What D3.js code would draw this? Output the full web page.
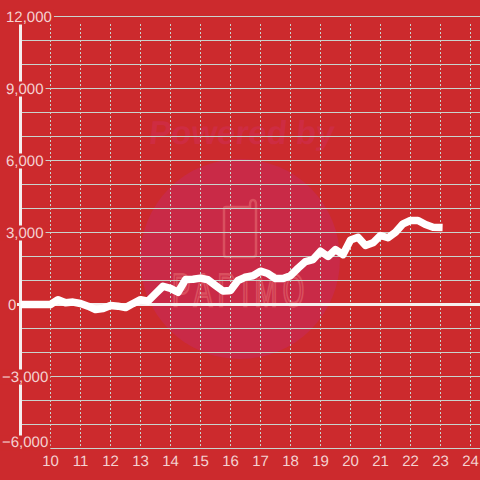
<!DOCTYPE html>
<html>
<head>
<meta charset="utf-8">
<style>
  html, body { margin: 0; padding: 0; background: #cc2a2d; }
  text { font-family: "Liberation Sans", Arial, sans-serif; text-rendering: geometricPrecision; }
</style>
<script src="https://cdn.jsdelivr.net/npm/d3@7"></script>
</head>
<body>
<div class="chart"></div>
<script>
// chart values
var hours = [9, 9.25, 9.5, 9.75, 10, 10.25, 10.5, 10.75, 11, 11.25, 11.5, 11.75, 12, 12.25, 12.5, 12.75,
  13, 13.25, 13.5, 13.75, 14, 14.25, 14.5, 14.75, 15, 15.25, 15.5, 15.75, 16, 16.25, 16.5, 16.75,
  17, 17.25, 17.5, 17.75, 18, 18.25, 18.5, 18.75, 19, 19.25, 19.5, 19.75, 20, 20.25, 20.5, 20.75,
  21, 21.25, 21.5, 21.75, 22, 22.25, 22.5, 22.75, 23.07];
var values = [0, 0, 0, 0, 0, 200, 70, 100, 40, -70, -210, -170, -40, -70, -130, 40,
  200, 140, 450, 760, 670, 510, 1040, 1050, 1100, 1030, 790, 560, 580, 1000,
  1140, 1200, 1390, 1290, 1080, 1080, 1200, 1510, 1790, 1870, 2220, 2000, 2290, 2080, 2690, 2800,
  2460, 2570, 2875, 2780, 3010, 3360, 3500, 3500, 3330, 3220, 3210];
var xTicks = [10, 11, 12, 13, 14, 15, 16, 17, 18, 19, 20, 21, 22, 23, 24];
var yGrid = [-6000, -5000, -4000, -3000, -2000, -1000, 1000, 2000, 3000, 4000, 5000, 6000, 7000, 8000, 9000, 10000, 11000, 12000];
var yLabels = [12000, 9000, 6000, 3000, 0, -3000, -6000];

var svgSize = 480;
var red = "#cc2a2d";
var gridColor = "#c9d3cd";
var labelColor = "#f4d2d2";

var svg = d3.select(".chart").append("svg")
  .attr("width", svgSize)
  .attr("height", svgSize)
  .style("display", "block");

svg.append("rect").attr("width", svgSize).attr("height", svgSize).attr("fill", red);

// both scales fitted to the tick positions in the picture
var x = d3.scaleLinear().domain([10, 24]).range([50.5, 470.5]);
var y = d3.scaleLinear().domain([-6000, 12000]).range([448.5, 16.5]);

// watermark
var mark = svg.append("g");
mark.append("circle").attr("cx", 240).attr("cy", 259).attr("r", 100).attr("fill", "#c92a47");
mark.append("text")
  .attr("x", 241).attr("y", 144)
  .attr("text-anchor", "middle")
  .attr("font-size", 33).attr("font-weight", "bold")
  .attr("transform", "skewX(-6) translate(15,0)")
  .attr("fill", "#ce2c42")
  .text("Powered by");
mark.append("path")
  .attr("d", "M226,207 H250 V205 Q250,200 253,200 Q256,200 256,205 V254 Q256,257 253,257 H226 Q224,257 224,254 V209 Q224,207 226,207 Z")
  .attr("fill", "none").attr("stroke", "#d9505f").attr("stroke-width", 2.5);
mark.append("text")
  .attr("transform", "translate(172,306) scale(0.6,1)")
  .attr("font-size", 46)
  .attr("letter-spacing", 9)
  .attr("fill", "none").attr("stroke", "#d9505f").attr("stroke-width", 2.5)
  .text("PAPIMO");

// grid
svg.selectAll(".grid-y").data(yGrid).enter().append("line")
  .attr("class", "grid-y")
  .attr("x1", 21).attr("x2", svgSize)
  .attr("y1", function(d) { return y(d); })
  .attr("y2", function(d) { return y(d); })
  .attr("stroke", gridColor);

svg.selectAll(".grid-x").data(xTicks).enter().append("line")
  .attr("class", "grid-x")
  .attr("x1", function(d) { return x(d); })
  .attr("x2", function(d) { return x(d); })
  .attr("y1", 24).attr("y2", y(-6000))
  .attr("stroke", gridColor)
  .attr("stroke-dasharray", "2,2");

// left axis bar and zero line
svg.append("line")
  .attr("x1", 20.5).attr("x2", 20.5)
  .attr("y1", 24).attr("y2", 436)
  .attr("stroke", "#f5eeee").attr("stroke-width", 3);
svg.append("line")
  .attr("x1", 17).attr("x2", svgSize)
  .attr("y1", y(0)).attr("y2", y(0))
  .attr("stroke", "#f5eeee").attr("stroke-width", 3);

// the series
var line = d3.line()
  .x(function(d, i) { return x(hours[i]); })
  .y(function(d) { return y(d); });

svg.append("path")
  .datum(values)
  .attr("d", line)
  .attr("fill", "none")
  .attr("stroke", "#ffffff")
  .attr("stroke-width", 7.5)
  .attr("stroke-linejoin", "round");

// y labels sit on a red box that cuts the axis and grid
var labelFormat = d3.format(",");
var yLabel = svg.selectAll(".y-label").data(yLabels).enter().append("g")
  .attr("class", "y-label")
  .attr("transform", function(d) { return "translate(0," + y(d) + ")"; });

yLabel.append("text")
  .attr("x", function(d) { return d < 0 ? 2 : (d == 0 ? 8 : 6); })
  .attr("y", function(d) { return d == -6000 ? -1.5 : 5; }) // bottom label is pushed up inside the plot
  .attr("font-size", 15)
  .attr("fill", labelColor)
  .text(function(d) { return labelFormat(d); });

yLabel.each(function(d) {
  if (d == 0) return;
  var box = d3.select(this).select("text").node().getBBox();
  d3.select(this).insert("rect", "text")
    .attr("x", 0).attr("y", d == -6000 ? -13 : -7)
    .attr("width", box.x + box.width + 2).attr("height", 15)
    .attr("fill", red);
});

// x labels
svg.selectAll(".x-label").data(xTicks).enter().append("text")
  .attr("class", "x-label")
  .attr("x", function(d) { return x(d); })
  .attr("y", 466)
  .attr("text-anchor", "middle")
  .attr("font-size", 15)
  .attr("fill", labelColor)
  .text(function(d) { return d; });
</script>
</body>
</html>
